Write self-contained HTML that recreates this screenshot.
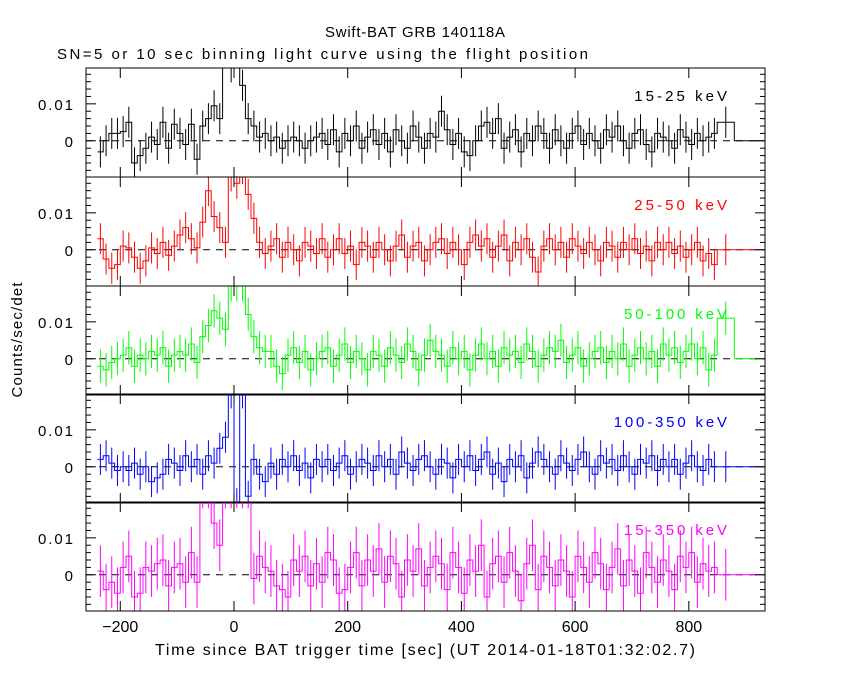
<!DOCTYPE html>
<html><head><meta charset="utf-8"><style>
html,body{margin:0;padding:0;background:#fff;}
svg{display:block;font-family:"Liberation Sans",sans-serif;}
</style></head><body>
<svg id="c" width="850" height="680" xmlns="http://www.w3.org/2000/svg">
<rect width="850" height="680" fill="#fff"/>
<text x="325" y="37" font-size="15" textLength="180" lengthAdjust="spacing">Swift-BAT GRB 140118A</text>
<text x="57" y="59" font-size="15" textLength="531" lengthAdjust="spacing">SN=5 or 10 sec binning light curve using the flight position</text>
<text x="155" y="655" font-size="16" textLength="540" lengthAdjust="spacing">Time since BAT trigger time [sec] (UT 2014-01-18T01:32:02.7)</text>
<text x="22" y="340" font-size="15" text-anchor="middle" textLength="115" lengthAdjust="spacing" transform="rotate(-90 22 340)">Counts/sec/det</text>
<g id="plots"></g>
</svg>
<script>
const binStart = -240;
const binWidth = 10;
const bands = ["15-25 keV","25-50 keV","50-100 keV","100-350 keV","15-350 keV"];
const colors = ["#000000","#ff0000","#00ff00","#0000ff","#ff00ff"];
const errors = [0.0042,0.0042,0.0045,0.0042,0.007];
const xTicks = [-200,0,200,400,600,800];
const yTicks = [0,0.01];
const wideBin = [850,880];
const wideVals = [0.005,0,0.011,0,0];
const s1 = [-0.003,0,0.002,0.002,0.0025,0.005,-0.006,-0.004,-0.002,0.001,
-0.001,0.005,-0.002,0.0045,0.002,-0.001,0.0045,-0.005,0.004,0.006,
0.0095,0.006,0.025,0.02,0.025,0.015,0.006,0.004,0.001,0.002,
0,0.001,-0.002,0,0.001,0,-0.002,0,0.001,0.002,
-0.001,0.003,-0.003,0.002,0,0.004,-0.002,0.001,0.003,-0.001,
0.002,-0.003,0.003,0,-0.002,0.004,0.001,-0.002,0.002,0.001,
0.008,0.003,-0.001,0.002,-0.003,-0.004,0,0.004,0.005,0.002,
0.006,-0.002,0.001,0.003,-0.003,0.002,0,0.004,0.002,-0.002,
0.003,0,-0.002,0.002,0.004,-0.001,0.002,0,-0.002,0.003,
0.001,0.004,0,-0.002,0.002,0.003,-0.001,-0.003,0.002,0.001,
0,-0.002,0.003,0.001,-0.001,0.002,0,0.001,0.002];
const s2 = [0.003,-0.0025,-0.005,-0.004,0.001,0.0005,-0.002,-0.005,-0.003,0.0005,
-0.001,0.002,-0.0015,0.001,0.004,0.006,0.003,0.0005,0.0075,0.016,
0.009,0.006,0.002,0.02,0.018,0.022,0.015,0.0085,0.002,-0.001,
0.001,0.003,-0.002,0.002,0,-0.003,0.002,0.001,-0.001,0.003,
-0.002,0,0.003,-0.001,0.001,-0.004,0.002,0.001,-0.002,0.002,
0,-0.003,0.001,0.004,-0.002,0.001,0.002,-0.003,0,0.002,
0.003,-0.001,0.002,0,-0.004,0.002,0.004,0.001,0.003,-0.002,
0.001,0.004,-0.003,0.002,0,0.003,-0.002,-0.006,0.001,0.003,
0,0.002,-0.002,0.003,0.001,-0.001,0.002,0,-0.003,0.002,
0.001,-0.002,0.002,0,0.003,-0.001,0.001,-0.003,0.002,0,
0.002,-0.001,0.001,-0.002,0,0.002,-0.003,-0.001,-0.004];
const s3 = [-0.002,-0.003,-0.001,0,0.001,0.003,-0.002,0.001,0,0.002,
0.001,0.003,-0.002,0.001,0.002,0.001,0.004,-0.001,0.006,0.009,
0.013,0.011,0.008,0.02,0.02,0.02,0.012,0.006,0.003,0.002,
0.002,-0.002,-0.004,0.001,0.003,-0.001,0.002,-0.003,0,0.002,
0.003,-0.002,0.001,0.004,-0.001,0.002,0,-0.003,0.002,0.001,
-0.002,0.003,0.001,-0.001,0.004,0.002,-0.003,0.001,0.005,0.002,
0.001,-0.002,0.003,0,0.002,-0.003,0.001,0.004,0,0.002,
-0.002,0.003,0.001,0.002,-0.001,0.004,0.002,-0.002,0.001,0.003,
0.002,0.005,-0.001,0.001,0.003,-0.002,0,0.002,0.003,-0.001,
0.002,0,0.004,-0.002,0.001,0.003,0,0.002,-0.002,0.004,
0.001,0.003,-0.001,0.002,0.004,0,0.003,-0.003,0.001];
const s4 = [0.002,0.003,0.001,-0.001,0,-0.001,0.001,-0.002,0,-0.004,
-0.003,-0.002,0.002,0.001,-0.001,0.003,0,0.002,-0.002,0.003,
0.001,0.005,0.008,0.02,-0.01,0.02,-0.008,0.002,-0.002,-0.004,
0.001,-0.002,0.002,0,0.003,-0.001,0.001,-0.003,0.002,0,
0.002,-0.001,0.001,0.003,-0.002,0,0.002,0.001,-0.001,0.003,
0,0.002,-0.002,0.004,0.001,-0.001,0.002,0.003,0,-0.002,
0.002,0.001,-0.003,0.002,0,0.003,-0.001,0.002,0.004,-0.002,
0.001,-0.004,0.002,0,0.003,-0.003,0.001,0.004,0.002,0,
-0.002,0.003,0.001,-0.001,0.002,0.004,0,-0.002,0.003,0.001,
0.002,-0.001,0.003,0,-0.002,0.002,0.001,0.003,-0.001,0.002,
0,0.002,-0.002,0.001,0.003,0,-0.001,0.002,0];
const s5 = [0.001,-0.004,-0.002,-0.005,0.002,0.005,-0.006,-0.005,0.002,0.001,
0.003,0.004,-0.003,0.002,0.003,-0.002,0.006,-0.002,0.025,0.025,
0.014,0.008,0.025,0.025,0.025,0.025,0.025,-0.001,0.005,0.002,
0.001,-0.003,-0.004,-0.006,0.004,0.001,0.005,-0.003,0.003,-0.002,
0.006,0.004,-0.005,-0.004,0.002,0.006,-0.003,0.004,0.001,0.007,
-0.002,0.005,0.003,-0.006,0.004,0.001,0.007,-0.003,0.002,0.005,
0.003,-0.004,0.006,0.002,-0.005,0.004,0.001,0.008,-0.006,0.003,
0.005,-0.002,0.006,0.001,-0.007,0.003,0.008,-0.004,0.005,0.002,
-0.003,0.004,0.001,-0.006,0.005,0.002,-0.002,0.006,0.003,-0.004,
0.002,0.007,-0.003,0.004,0.001,-0.005,0.006,0.002,-0.002,0.004,
0.001,-0.004,0.005,0.002,0.006,-0.002,0.003,0.001,0.002];
const series = [s1,s2,s3,s4,s5];

const NS = "http://www.w3.org/2000/svg";
const L = 86, R = 765, tops = [68,177,286,394,502], H = 109;
const xMin = -260.3, xMax = 934;
const yMin = -0.0098, yMax = 0.0197;
function xs(t){ return L + (t - xMin) / (xMax - xMin) * (R - L); }
function ysFor(top){ return v => top + H - (v - yMin) / (yMax - yMin) * H; }
function mk(tag, attrs, parent){
  const e = document.createElementNS(NS, tag);
  for (const k in attrs) e.setAttribute(k, attrs[k]);
  parent.appendChild(e); return e;
}
const root = document.getElementById('plots');
series.forEach((vals, p) => {
  const top = tops[p], ys = ysFor(top), col = colors[p];
  const g = mk('g', {}, root);
  
  
  const cp = mk('clipPath', {id: 'cp' + p}, g);
  mk('rect', {x: L, y: top, width: R - L, height: H}, cp);
  const zl = mk('line', {x1: L, x2: R, y1: ys(0), y2: ys(0), stroke: '#000', 'stroke-dasharray': '7,6', 'stroke-width': 1}, g);
  
  
  const dg = mk('g', {'clip-path': 'url(#cp' + p + ')'}, g);
  let d = '';
  vals.forEach((v, i) => {
    const t0 = binStart + i * binWidth, t1 = t0 + binWidth;
    d += (i === 0 ? 'M' : 'L') + xs(t0).toFixed(1) + ',' + ys(v).toFixed(1) + 'L' + xs(t1).toFixed(1) + ',' + ys(v).toFixed(1);
    const xc = xs(t0 + binWidth / 2);
    const eb = mk('line', {x1: xc, x2: xc, y1: ys(v + errors[p]), y2: ys(v - errors[p]), stroke: col, 'stroke-width': 1}, dg);
    
    
  });
  const wv = wideVals[p];
  d += 'L' + xs(wideBin[0]).toFixed(1) + ',' + ys(wv).toFixed(1) + 'L' + xs(wideBin[1]).toFixed(1) + ',' + ys(wv).toFixed(1);
  d += 'L' + xs(wideBin[1]).toFixed(1) + ',' + ys(0).toFixed(1) + 'L' + xs(930).toFixed(1) + ',' + ys(0).toFixed(1);
  const wc = xs((wideBin[0] + wideBin[1]) / 2);
  mk('line', {x1: wc, x2: wc, y1: ys(wv + errors[p]), y2: ys(wv - errors[p]), stroke: col}, dg);
  const path = mk('path', {d: d, fill: 'none', stroke: col, 'stroke-width': 1}, dg);
  
  
  mk('rect', {x: L, y: top, width: R - L, height: H, fill: 'none', stroke: '#000', 'stroke-width': 1}, g);
  for (let v = -0.008; v <= 0.0195; v += 0.002) {
    const major = Math.abs(v) < 1e-6 || Math.abs(v - 0.01) < 1e-6;
    const len = major ? 10 : 5;
    mk('line', {x1: L, x2: L + len, y1: ys(v), y2: ys(v), stroke: '#000'}, g);
    mk('line', {x1: R, x2: R - len, y1: ys(v), y2: ys(v), stroke: '#000'}, g);
  }
  yTicks.forEach(v => {
    const t = mk('text', {x: 73, y: ys(v) + 6, 'font-size': 15, 'text-anchor': 'end'}, g);
    t.textContent = v === 0 ? '0' : '0.01';
    if (v !== 0) { t.setAttribute('textLength', 35); t.setAttribute('lengthAdjust', 'spacing'); }
    
    
  });
  xTicks.forEach(t => {
    mk('line', {x1: xs(t), x2: xs(t), y1: top + H, y2: top + H - 10, stroke: '#000'}, g);
    mk('line', {x1: xs(t), x2: xs(t), y1: top, y2: top + 10, stroke: '#000'}, g);
  });
  const labLen = bands[p].length * 10.3;
  const lab = mk('text', {x: 727 - labLen, y: top + 33, 'font-size': 15, fill: col, textLength: labLen, lengthAdjust: 'spacing'}, g);
  lab.textContent = bands[p];
  
  
});
xTicks.forEach(t => {
  const e = mk('text', {x: xs(t), y: 632, 'font-size': 16, 'text-anchor': 'middle'}, root);
  e.textContent = t < 0 ? '\u2212' + (-t) : String(t);
  
  
});
</script>
</body></html>
